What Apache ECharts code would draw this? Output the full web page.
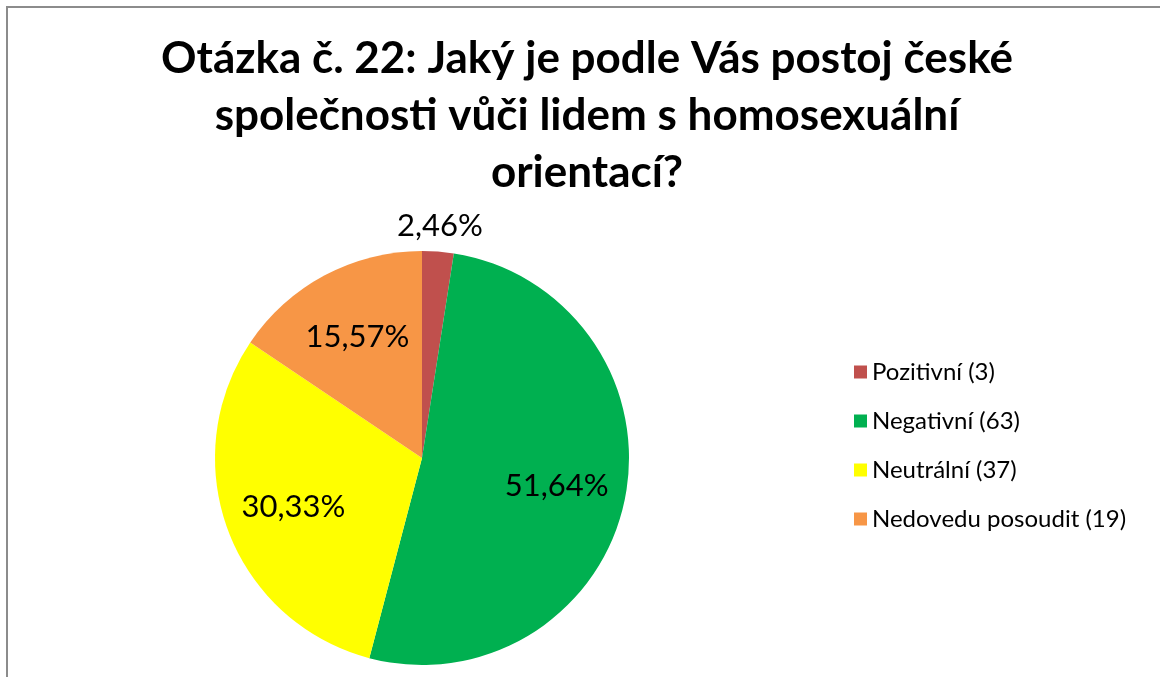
<!DOCTYPE html>
<html>
<head>
<meta charset="utf-8">
<script src="https://cdn.jsdelivr.net/npm/echarts@6/dist/echarts.min.js"></script>
<style>
  html, body { margin: 0; padding: 0; background: #fff; }
  #wrap { position: relative; width: 1160px; height: 677px; overflow: hidden; }
  #frame { position: absolute; left: 6px; top: 6px; width: 1300px; height: 800px; border-left: 2px solid #8c8c8c; border-top: 2px solid #8c8c8c; }
  #chart { position: absolute; left: 0; top: 0; width: 1160px; height: 677px; }
</style>
</head>
<body>
<div id="wrap"><div id="frame"></div><div id="chart"></div></div>
<script>
const titleText = 'Otázka č. 22: Jaký je podle Vás postoj české\nspolečnosti vůči lidem s homosexuální\norientací?';
const categories = ['Pozitivní', 'Negativní', 'Neutrální', 'Nedovedu posoudit'];
const counts = [3, 63, 37, 19];
const colors = ['#C0504D', '#00B050', '#FFFF00', '#F79646'];

const total = counts.reduce((a, b) => a + b, 0);
const fmtPct = v => (v / total * 100).toFixed(2).replace('.', ',') + '%';
const legendNames = categories.map((c, i) => c + ' (' + counts[i] + ')');
const FONT = 'Lato';

const mainData = categories.map((c, i) => ({ name: legendNames[i], value: counts[i], itemStyle: { color: colors[i] } }));
const innerLabelData = categories.map((c, i) => ({
  name: legendNames[i], value: counts[i],
  itemStyle: { color: 'transparent' },
  label: { show: i !== 0 }
}));
const outerLabelData = categories.map((c, i) => ({
  name: legendNames[i], value: counts[i],
  itemStyle: { color: 'transparent' },
  label: { show: i === 0 }
}));

const chart = echarts.init(document.getElementById('chart'));
const labelStyle = {
  position: 'inside',
  formatter: p => fmtPct(p.value),
  fontFamily: FONT, fontSize: 31, color: '#000'
};
chart.setOption({
  animation: false,
  title: {
    text: titleText,
    left: 582, top: 25, textAlign: 'center',
    textStyle: { fontFamily: FONT, fontWeight: 'bold', fontSize: 44, lineHeight: 57, color: '#000' }
  },
  legend: {
    orient: 'vertical',
    left: 849, top: 355,
    data: legendNames,
    icon: 'rect', itemWidth: 13, itemHeight: 13, itemGap: 25, itemTextGap: 8,
    textStyle: { fontFamily: FONT, fontSize: 24, lineHeight: 24, color: '#000' },
    selectedMode: false
  },
  series: [
    {
      type: 'pie', center: [422, 458], radius: 207, startAngle: 90, clockwise: true,
      label: { show: false }, labelLine: { show: false },
      emphasis: { disabled: true },
      data: mainData
    },
    {
      type: 'pie', center: [422, 458], radius: [62, 207], startAngle: 90, clockwise: true, silent: true,
      label: labelStyle, labelLine: { show: false },
      emphasis: { disabled: true }, z: 3,
      data: innerLabelData
    },
    {
      type: 'pie', center: [422, 458], radius: [215, 245], startAngle: 90, clockwise: true, silent: true,
      label: labelStyle, labelLine: { show: false },
      emphasis: { disabled: true }, z: 3,
      data: outerLabelData
    }
  ]
});
</script>
</body>
</html>
